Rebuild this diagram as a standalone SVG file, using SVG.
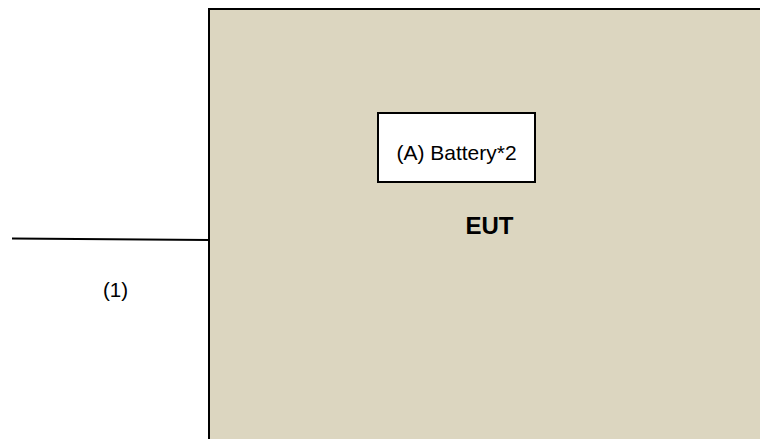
<svg xmlns="http://www.w3.org/2000/svg" width="760" height="439" viewBox="0 0 760 439">
<style>
.t{font-family:"Liberation Sans",Arial,sans-serif;fill:#000}
</style>
<rect width="760" height="439" fill="#fff"/>
<g id="eut">
<rect x="209" y="9" width="560" height="440" fill="#DCD6C0" stroke="#000" stroke-width="2"/>
<text class="t" x="489.5" y="234" font-size="24" font-weight="bold" text-anchor="middle">EUT</text>
</g>
<g id="battery">
<rect x="378" y="113" width="157" height="69" fill="#fff" stroke="#000" stroke-width="2"/>
<text class="t" x="456.5" y="160" font-size="21" text-anchor="middle">(A) Battery*2</text>
</g>
<g id="connectors">
<line x1="12" y1="238.5" x2="209" y2="240" stroke="#000" stroke-width="2"/>
<text class="t" x="115.5" y="297" font-size="20.5" text-anchor="middle">(1)</text>
</g>
</svg>
